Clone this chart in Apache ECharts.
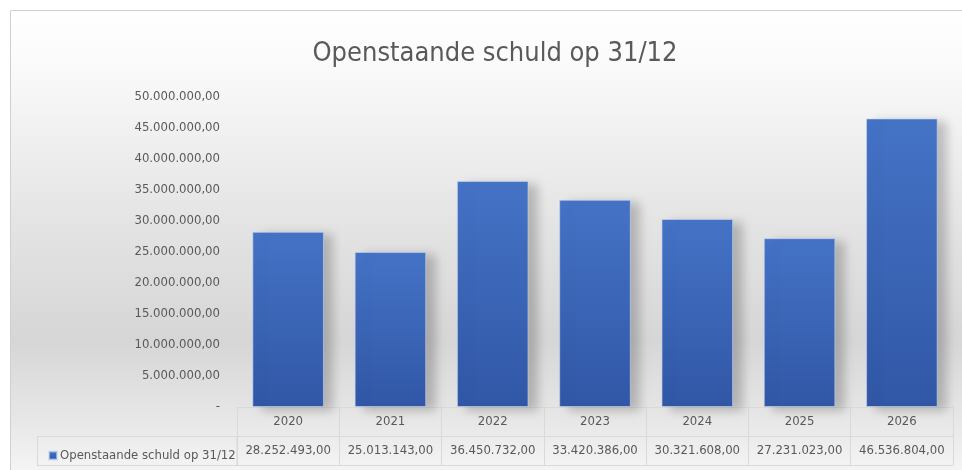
<!DOCTYPE html>
<html>
<head>
<meta charset="utf-8">
<script src="https://cdn.jsdelivr.net/npm/echarts@6/dist/echarts.min.js"></script>
<style>
  html, body { margin: 0; padding: 0; background: #fff; }
  #chart { width: 962px; height: 470px; }
</style>
</head>
<body>
<div id="chart"></div>
<script>
// data
const years = ['2020', '2021', '2022', '2023', '2024', '2025', '2026'];
const schuld = [28252493, 25013143, 36450732, 33420386, 30321608, 27231023, 46536804];
const seriesName = 'Openstaande schuld op 31/12';

const FONT = '"Liberation Sans Narrow", "DejaVu Sans Condensed", sans-serif';
const GREY = '#595959';
const LINE = '#d9d9d9';
const FS = 13;

// 1234567 -> 1.234.567,00 ; 0 -> '-'
function fmt(v) {
  if (v === 0) return '-';
  let s = Math.round(v).toString();
  let out = '';
  while (s.length > 3) {
    out = '.' + s.slice(-3) + out;
    s = s.slice(0, -3);
  }
  return s + out + ',00';
}
const valueLabels = schuld.map(fmt);

const chart = echarts.init(document.getElementById('chart'));

chart.setOption({
  animation: false,
  textStyle: { fontFamily: FONT },
  title: {
    text: seriesName,
    left: 490,
    top: 35,
    textAlign: 'center',
    textStyle: { fontFamily: FONT, fontSize: 27, fontWeight: 'normal', color: GREY }
  },
  legend: {
    left: 43,
    top: 444,
    itemWidth: 8,
    itemHeight: 8,
    itemGap: 4,
    icon: 'rect',
    textStyle: { fontFamily: FONT, fontSize: FS, color: GREY, padding: [0, 0, 0, -2] },
    data: [seriesName]
  },
  grid: { left: 237, right: 9, top: 97, bottom: 63 },
  xAxis: [
    {
      type: 'category',
      data: years,
      position: 'bottom',
      axisLine: { lineStyle: { color: LINE } },
      axisTick: { show: true, length: 58, lineStyle: { color: LINE } },
      axisLabel: { fontFamily: FONT, fontSize: FS, color: GREY, margin: 8, interval: 0 }
    },
    {
      type: 'category',
      data: valueLabels,
      position: 'bottom',
      offset: 29,
      axisLine: { lineStyle: { color: LINE } },
      axisTick: { show: false },
      axisLabel: { fontFamily: FONT, fontSize: FS, color: GREY, margin: 8, interval: 0 }
    },
    {
      type: 'category',
      data: years,
      position: 'bottom',
      offset: 58,
      axisLine: { lineStyle: { color: LINE } },
      axisTick: { show: false },
      axisLabel: { show: false }
    }
  ],
  yAxis: {
    type: 'value',
    min: 0,
    max: 50000000,
    interval: 5000000,
    axisLine: { show: false },
    axisTick: { show: false },
    splitLine: { show: false },
    axisLabel: {
      fontFamily: FONT, fontSize: FS, color: GREY, margin: 17,
      formatter: fmt
    }
  },
  graphic: [
    {
      type: 'rect',
      z: -10,
      silent: true,
      shape: { x: 10.5, y: 10.5, width: 960, height: 470 },
      style: {
        fill: new echarts.graphic.LinearGradient(0, 0, 0, 1, [
          { offset: 0, color: '#ffffff' },
          { offset: 0.1, color: '#fbfbfb' },
          { offset: 0.45, color: '#e4e4e4' },
          { offset: 0.7, color: '#d6d6d6' },
          { offset: 0.88, color: '#e8e8e8' },
          { offset: 1, color: '#f7f7f7' }
        ]),
        stroke: '#d0d0d0',
        lineWidth: 1
      }
    },
    {
      type: 'rect',
      silent: true,
      shape: { x: 37.5, y: 436.5, width: 199.5, height: 29 },
      style: { fill: 'none', stroke: LINE, lineWidth: 1 }
    }
  ],
  series: [
    {
      name: seriesName,
      type: 'bar',
      data: schuld,
      barWidth: '70%',
      itemStyle: {
        color: new echarts.graphic.LinearGradient(0, 0, 0, 1, [
          { offset: 0, color: '#4573c6' },
          { offset: 1, color: '#3157a6' }
        ]),
        borderColor: 'rgba(200,215,240,0.6)',
        borderWidth: 1,
        shadowColor: 'rgba(0,0,0,0.22)',
        shadowBlur: 10,
        shadowOffsetX: 9,
        shadowOffsetY: 3
      }
    }
  ]
});
</script>
</body>
</html>
